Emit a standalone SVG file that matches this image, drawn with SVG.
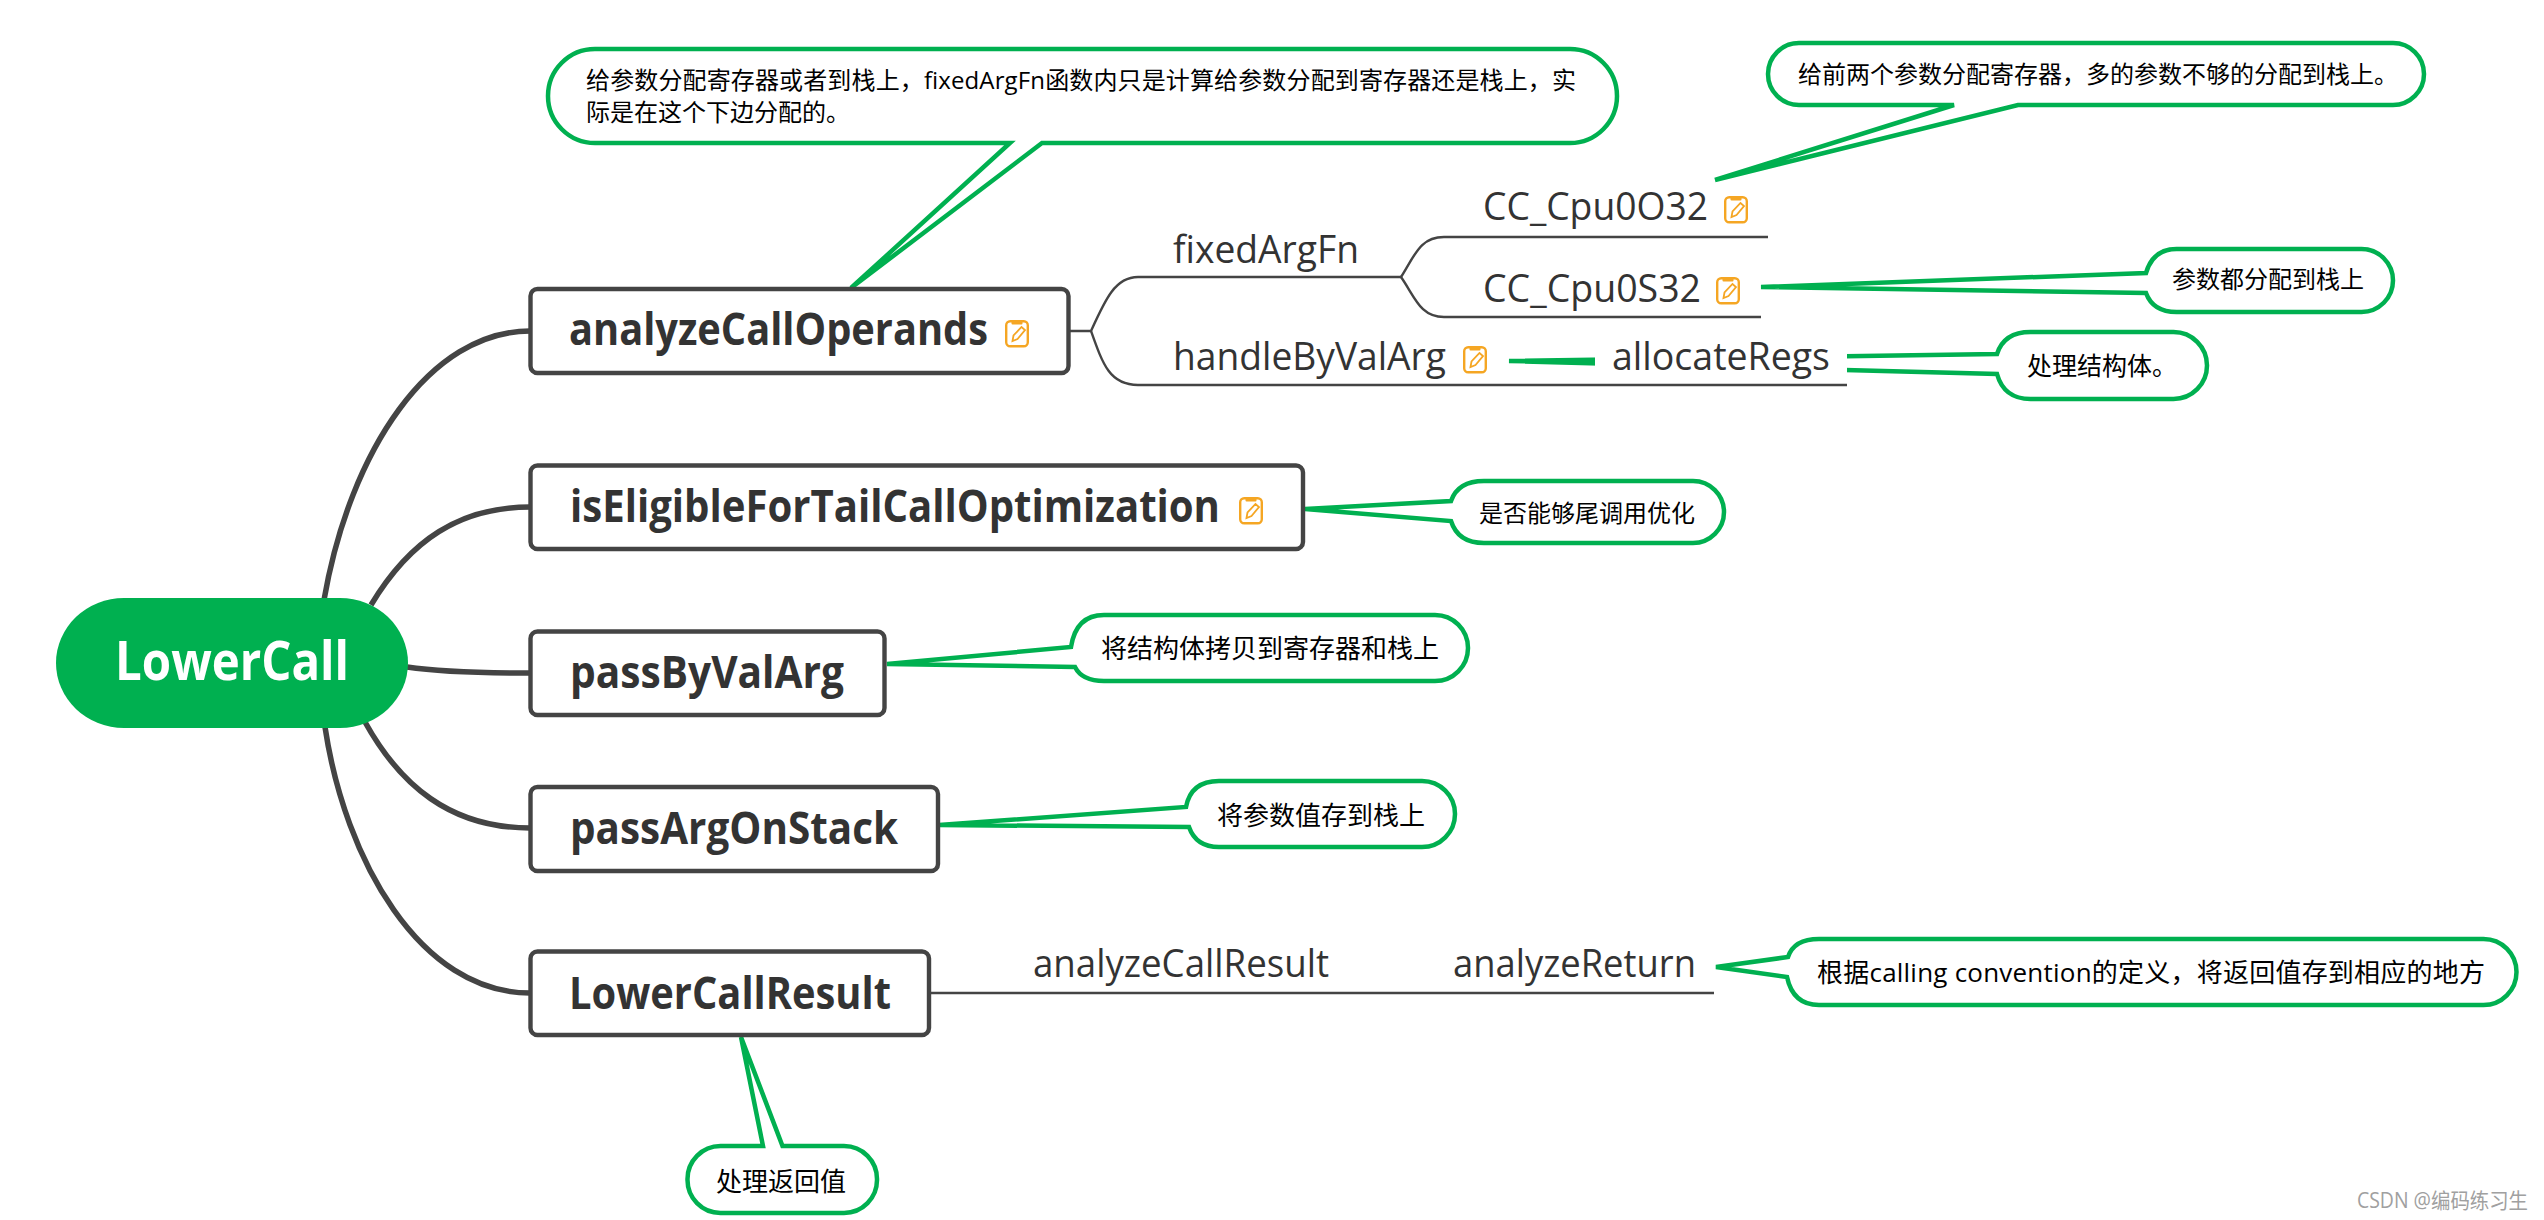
<svg xmlns="http://www.w3.org/2000/svg" xmlns:xlink="http://www.w3.org/1999/xlink" width="2544" height="1220" viewBox="0 0 2544 1220">
<style>
text{font-family:"Open Sans","Noto Sans CJK SC",sans-serif}
.bg{fill:#fff}
.main{fill:none;stroke:#444;stroke-width:5.5}
.sub{fill:none;stroke:#444;stroke-width:2.4}
.co{fill:#fff;stroke:#00B050;stroke-width:4.5;stroke-linejoin:miter}
.box{fill:#fff;stroke:#444;stroke-width:4.4}
.t1{font-size:44px;font-weight:700;fill:#333}
.t2{font-size:38px;fill:#333}
.n24{font-size:24px;fill:#000}
.n26{font-size:26px;fill:#000}
.root{font-size:54px;font-weight:700;fill:#fff}
.mark{font-size:21px;fill:#a0a0a0}
</style>
<defs>
<g id="note">
<rect x="1.2" y="1.2" width="21.6" height="25" rx="4" fill="#fff" stroke="#F5A623" stroke-width="2.4"/>
<rect x="6.5" y="0" width="11" height="4.5" rx="1" fill="#F5A623"/>
<path d="M7.5 21 L8.5 15.5 L16.5 7 L20 10 L12.5 19 Z" fill="none" stroke="#F5A623" stroke-width="1.8"/>
</g>
</defs>
<rect class="bg" width="2544" height="1220"/>
<g id="connectors">
<path class="main" d="M324,600 C350,450 430,331 530,331"/>
<path class="main" d="M371,605 C410,540 460,507 530,507"/>
<path class="main" d="M407,667 C440,672 480,673 530,673"/>
<path class="main" d="M365,722 C400,785 450,828 530,828"/>
<path class="main" d="M325,727 C345,860 420,993 530,993"/>
<path class="sub" d="M1068,331 H1091 C1105,300 1115,277 1138,277 H1401"/>
<path class="sub" d="M1091,331 C1103,365 1110,385 1138,385 H1847"/>
<path class="sub" d="M1401,277 C1415,255 1420,237 1444,237 H1768"/>
<path class="sub" d="M1401,277 C1415,297 1420,317 1444,317 H1761"/>
<path class="sub" d="M929,993 H1714"/>
</g>
<g id="callouts">
<g id="callout-args">
<path class="co" d="M595,49 H1570 A47,47 0 0 1 1617,96 A47,47 0 0 1 1570,143 H1042 L851,288 L1010,143 H595 A47,47 0 0 1 548,96 A47,47 0 0 1 595,49 Z"/>
<text class="n24" x="586" y="89" textLength="990">给参数分配寄存器或者到栈上，fixedArgFn函数内只是计算给参数分配到寄存器还是栈上，实</text>
<text class="n24" x="586" y="121">际是在这个下边分配的。</text>
</g>
<g id="callout-o32">
<path class="co" d="M1799,43 H2393 A31,31 0 0 1 2424,74 A31,31 0 0 1 2393,105 H2018 L1715,180 L1954,105 H1799 A31,31 0 0 1 1768,74 A31,31 0 0 1 1799,43 Z"/>
<text class="n24" x="1798" y="83">给前两个参数分配寄存器，多的参数不够的分配到栈上。</text>
</g>
<g id="callout-s32">
<path class="co" d="M2176.5,249 H2361.5 A31.5,31.5 0 0 1 2393,280.5 A31.5,31.5 0 0 1 2361.5,312 H2176.5 Q2153,312 2146,293 L1761,287 L2146,273 Q2153,249 2176.5,249 Z"/>
<text class="n24" x="2172" y="288">参数都分配到栈上</text>
</g>
<g id="callout-regs">
<path class="co" d="M2030.5,332 H2173.5 A33.5,33.5 0 0 1 2207,365.5 A33.5,33.5 0 0 1 2173.5,399 H2030.5 Q2004,399 1997,374 L1509,361 L1997,354 Q2004,332 2030.5,332 Z"/>
<text class="n24" x="2027" y="375" style="font-size:25px">处理结构体。</text>
</g>
<g id="callout-tail">
<path class="co" d="M1484,481 H1693 A31,31 0 0 1 1724,512 A31,31 0 0 1 1693,543 H1484 Q1458,543 1451,521 L1305,509 L1451,501 Q1458,481 1484,481 Z"/>
<text class="n24" x="1479" y="522">是否能够尾调用优化</text>
</g>
<g id="callout-byval">
<path class="co" d="M1104,615 H1435 A33,33 0 0 1 1468,648 A33,33 0 0 1 1435,681 H1104 Q1082,681 1075,667 L887,664 L1071,647 Q1076,615 1104,615 Z"/>
<text class="n26" x="1101" y="658">将结构体拷贝到寄存器和栈上</text>
</g>
<g id="callout-stack">
<path class="co" d="M1219,781 H1422 A33,33 0 0 1 1455,814 A33,33 0 0 1 1422,847 H1219 Q1196,847 1189,827 L939,825 L1186,807 Q1191,781 1219,781 Z"/>
<text class="n26" x="1217" y="825">将参数值存到栈上</text>
</g>
<g id="callout-return">
<path class="co" d="M1819,939 H2483.5 A33,33 0 0 1 2516.5,972 A33,33 0 0 1 2483.5,1005 H1819 Q1793,1005 1787,977 L1716,967 L1788,957 Q1794,939 1819,939 Z"/>
<text class="n26" x="1817" y="982" textLength="668">根据calling convention的定义，将返回值存到相应的地方</text>
</g>
<g id="callout-result">
<path class="co" d="M720.5,1146 H763 L741,1037 L782.5,1146 H844 A33,33 0 0 1 877,1179.5 A33,33 0 0 1 844,1213 H720.5 A33,33 0 0 1 687.5,1179.5 A33,33 0 0 1 720.5,1146 Z"/>
<text class="n26" x="716" y="1191">处理返回值</text>
</g>
</g>
<g id="node-root">
<rect x="56" y="598" width="352" height="130" rx="68" ry="65" fill="#00B050"/>
<text class="root" x="115" y="680" textLength="234" lengthAdjust="spacingAndGlyphs">LowerCall</text>
</g>
<g id="node-analyzeCallOperands">
<rect class="box" x="530.5" y="289" width="538" height="84" rx="7"/>
<text class="t1" x="569" y="345" textLength="419" lengthAdjust="spacingAndGlyphs">analyzeCallOperands</text>
<use href="#note" x="1005" y="320"/>
</g>
<g id="node-isEligible">
<rect class="box" x="530.5" y="465.5" width="772.5" height="83.5" rx="7"/>
<text class="t1" x="570" y="522" textLength="650" lengthAdjust="spacingAndGlyphs">isEligibleForTailCallOptimization</text>
<use href="#note" x="1239" y="497"/>
</g>
<g id="node-passByValArg">
<rect class="box" x="530.5" y="631.5" width="354" height="83.5" rx="7"/>
<text class="t1" x="570" y="688" textLength="274" lengthAdjust="spacingAndGlyphs">passByValArg</text>
</g>
<g id="node-passArgOnStack">
<rect class="box" x="530.5" y="787" width="407.5" height="84" rx="7"/>
<text class="t1" x="570" y="844" textLength="328" lengthAdjust="spacingAndGlyphs">passArgOnStack</text>
</g>
<g id="node-LowerCallResult">
<rect class="box" x="530.5" y="951.5" width="398.5" height="83.5" rx="7"/>
<text class="t1" x="569" y="1009" textLength="322" lengthAdjust="spacingAndGlyphs">LowerCallResult</text>
</g>
<g id="node-fixedArgFn"><text class="t2" x="1173" y="263" textLength="186" lengthAdjust="spacingAndGlyphs">fixedArgFn</text></g>
<g id="node-handleByValArg">
<text class="t2" x="1173" y="370" textLength="273" lengthAdjust="spacingAndGlyphs">handleByValArg</text>
<use href="#note" x="1463" y="346"/>
</g>
<g id="node-CC_Cpu0O32">
<text class="t2" x="1483" y="220" textLength="225" lengthAdjust="spacingAndGlyphs">CC_Cpu0O32</text>
<use href="#note" x="1724" y="196"/>
</g>
<g id="node-CC_Cpu0S32">
<text class="t2" x="1483" y="302" textLength="218" lengthAdjust="spacingAndGlyphs">CC_Cpu0S32</text>
<use href="#note" x="1716" y="277"/>
</g>
<g id="node-allocateRegs">
<rect class="bg" x="1595" y="335" width="252" height="48"/>
<text class="t2" x="1612" y="370" textLength="218" lengthAdjust="spacingAndGlyphs">allocateRegs</text>
</g>
<g id="node-analyzeCallResult"><text class="t2" x="1033" y="977" textLength="296" lengthAdjust="spacingAndGlyphs">analyzeCallResult</text></g>
<g id="node-analyzeReturn"><text class="t2" x="1453" y="977" textLength="243" lengthAdjust="spacingAndGlyphs">analyzeReturn</text></g>
<text class="mark" x="2357" y="1208" textLength="171" lengthAdjust="spacingAndGlyphs">CSDN @编码练习生</text>
</svg>
